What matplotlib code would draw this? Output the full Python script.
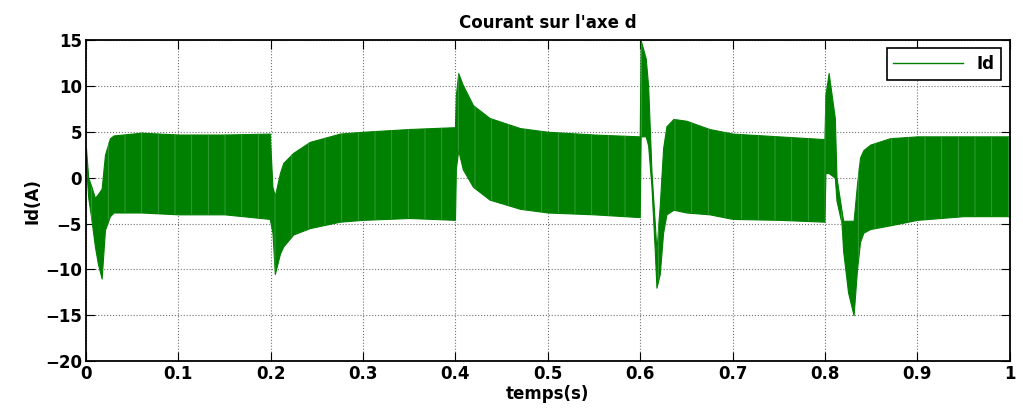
import numpy as np
import matplotlib.pyplot as plt
from matplotlib.lines import Line2D

plt.rcParams['font.family'] = ['DejaVu Sans']
plt.rcParams['font.weight'] = 'bold'
plt.rcParams['hatch.linewidth'] = 0.6

# enveloppe du courant Id (temps en s, courant en A)
t_s = [0.0, 0.0025, 0.006, 0.0097, 0.013, 0.017, 0.0206, 0.026, 0.03, 0.06,
       0.1, 0.15, 0.199, 0.2019, 0.2045, 0.21, 0.2136, 0.2244, 0.2424, 0.275,
       0.3, 0.35, 0.3995, 0.4005, 0.403, 0.408, 0.419, 0.437, 0.47, 0.5,
       0.55, 0.5995, 0.6005, 0.606, 0.6086, 0.6122, 0.6158, 0.6176, 0.6212,
       0.6248, 0.6284, 0.636, 0.65, 0.675, 0.7, 0.75, 0.7995, 0.8005, 0.804,
       0.8107, 0.8125, 0.818, 0.8197, 0.825, 0.831, 0.8347, 0.838, 0.8416,
       0.849, 0.8705, 0.9, 0.95, 1.0]
id_haut = [3.3, 0.0, -1.0, -2.2, -1.8, -1.2, 2.5, 4.3, 4.6, 4.9,
           4.7, 4.7, 4.8, -1.0, -2.0, 0.5, 1.6, 2.7, 3.9, 4.8,
           5.0, 5.3, 5.5, 9.0, 11.4, 10.1, 7.9, 6.5, 5.4, 5.0,
           4.7, 4.5, 15.0, 13.0, 10.0, 0.7, -5.0, -8.0, -3.0,
           3.2, 5.6, 6.4, 6.2, 5.3, 4.8, 4.5, 4.2, 9.0, 11.4,
           6.5, 0.0, -3.6, -4.7, -4.7, -4.7, -0.7, 2.2, 3.0,
           3.6, 4.3, 4.5, 4.5, 4.5]
id_bas = [1.5, -2.2, -4.6, -7.5, -9.4, -11.0, -5.7, -4.2, -3.8, -3.8,
          -4.0, -4.0, -4.5, -6.0, -10.5, -8.3, -7.5, -6.2, -5.5, -4.8,
          -4.6, -4.4, -4.6, 1.0, 3.0, 0.9, -1.0, -2.4, -3.4, -3.8,
          -4.0, -4.3, 4.5, 4.5, 3.5, -1.0, -8.0, -12.0, -10.5,
          -6.0, -4.0, -3.5, -3.8, -4.0, -4.5, -4.6, -4.8, 0.5, 0.5,
          0.0, -2.5, -5.0, -8.0, -12.5, -15.0, -10.0, -7.0, -6.0,
          -5.6, -5.2, -4.6, -4.2, -4.2]

x_ticks = [0, 0.1, 0.2, 0.3, 0.4, 0.5, 0.6, 0.7, 0.8, 0.9, 1]
x_labels = ['0', '0.1', '0.2', '0.3', '0.4', '0.5', '0.6', '0.7', '0.8', '0.9', '1']
y_ticks = [-20, -15, -10, -5, 0, 5, 10, 15]

vert = '#008000'

fig = plt.figure(figsize=(10.23, 4.17), dpi=100)
ax = fig.add_axes([0.084, 0.134, 0.903, 0.77])

# bande d'oscillation (signal très dense) + stries plus claires
ax.fill_between(t_s, id_bas, id_haut, color=vert, linewidth=0.8)
ax.fill_between(t_s, id_bas, id_haut, facecolor='none', edgecolor='#3f9f3f',
                hatch='|', linewidth=0)

ax.set_xlim(0, 1)
ax.set_ylim(-20, 15)
ax.set_xticks(x_ticks)
ax.set_xticklabels(x_labels)
ax.set_yticks(y_ticks)
ax.grid(True, color='0.45', linestyle=':', linewidth=0.8)
ax.set_axisbelow(True)

ax.tick_params(direction='in', length=6.5, width=0.8, top=True, right=True,
               labelsize=12, pad=3)
for lab in ax.get_xticklabels() + ax.get_yticklabels():
    lab.set_fontweight('bold')
for sp in ax.spines.values():
    sp.set_linewidth(1.3)

ax.set_title("Courant sur l'axe d", fontsize=12, fontweight='bold', pad=9)
ax.set_xlabel('temps(s)', fontsize=12, fontweight='bold', labelpad=1)
ax.set_ylabel('Id(A)', fontsize=12, fontweight='bold', labelpad=2)

handle = Line2D([], [], color=vert, linewidth=1.0)
leg = ax.legend([handle], ['Id'], loc='upper right', handlelength=4.2,
                fancybox=False, framealpha=1, edgecolor='black',
                borderaxespad=0.5, prop={'weight': 'bold', 'size': 12})
leg.get_frame().set_linewidth(1.2)

fig.savefig('out.png', dpi=100)
